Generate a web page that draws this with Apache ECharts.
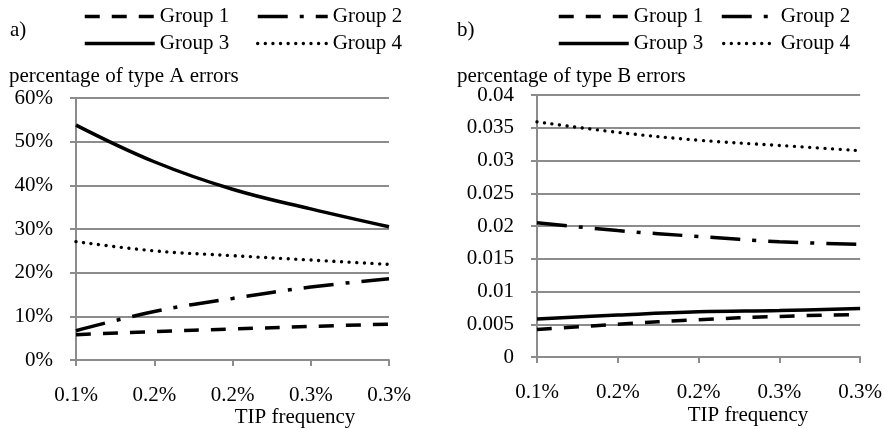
<!DOCTYPE html>
<html>
<head>
<meta charset="utf-8">
<script src="https://cdn.jsdelivr.net/npm/echarts@6/dist/echarts.min.js"></script>
<style>
html,body{margin:0;padding:0;background:#fff;}
#c{width:885px;height:429px;}
</style>
</head>
<body>
<div id="c"></div>
<script>
// ---- data ----
const xVals = [0.1, 0.15, 0.2, 0.25, 0.3];
const xTickLabels = ['0.1%', '0.2%', '0.2%', '0.3%', '0.3%'];
const yTickLabelsA = ['0%', '10%', '20%', '30%', '40%', '50%', '60%'];
const yTickLabelsB = ['0', '0.005', '0.01', '0.015', '0.02', '0.025', '0.03', '0.035', '0.04'];
const groupNames = ['Group 1', 'Group 2', 'Group 3', 'Group 4'];

// panel a) percentage of type A errors (in %)
const typeA_group1 = [5.8, 6.5, 7.1, 7.7, 8.2];
const typeA_group2 = [6.7, 11.1, 14.1, 16.7, 18.6];
const typeA_group3 = [53.8, 45.4, 39.1, 34.6, 30.5];
const typeA_group4 = [27.1, 25.0, 23.9, 22.9, 21.9];

// panel b) percentage of type B errors
const typeB_group1 = [0.0042, 0.0050, 0.0057, 0.0062, 0.0065];
const typeB_group2 = [0.0205, 0.0193, 0.0184, 0.0176, 0.0172];
const typeB_group3 = [0.0058, 0.0064, 0.0069, 0.0071, 0.0074];
const typeB_group4 = [0.0359, 0.0343, 0.0331, 0.0323, 0.0315];

// ---- styles ----
const FONT = '"Liberation Serif", serif';
const FS = 21;
const GRAY = '#8c8c8c';
const lineStyles = [
  { color: '#000', width: 3.5, type: [15, 12], cap: 'butt' },
  { color: '#000', width: 3.5, type: [30, 12, 4, 12], cap: 'butt' },
  { color: '#000', width: 3.5, type: 'solid', cap: 'butt' },
  { color: '#000', width: 3.4, type: [0.01, 7.6], cap: 'round' }
];

function xLabel(v) {
  let best = 0;
  for (let i = 1; i < xVals.length; i++) {
    if (Math.abs(xVals[i] - v) < Math.abs(xVals[best] - v)) best = i;
  }
  return xTickLabels[best];
}

const labelStyle = { fontFamily: FONT, fontSize: FS, color: '#000', fontWeight: 'normal' };

function makeX(gi) {
  return {
    type: 'value', gridIndex: gi, min: 0.1, max: 0.3, interval: 0.05,
    axisLine: { show: true, lineStyle: { color: GRAY, width: 2 } },
    axisTick: { show: true, length: 6, inside: false, lineStyle: { color: GRAY, width: 2 } },
    splitLine: { show: false },
    axisLabel: Object.assign({ formatter: xLabel, margin: 25 }, labelStyle)
  };
}
function makeY(gi, max, interval, labels) {
  return {
    type: 'value', gridIndex: gi, min: 0, max: max, interval: interval,
    axisLine: { show: true, lineStyle: { color: GRAY, width: 2 } },
    axisTick: { show: true, length: 6, inside: false, lineStyle: { color: GRAY, width: 2 } },
    splitLine: { show: true, lineStyle: { color: GRAY, width: 2 } },
    axisLabel: Object.assign({ formatter: function (v, i) { return labels[i]; }, margin: 23 }, labelStyle)
  };
}

const seriesA = [typeA_group1, typeA_group2, typeA_group3, typeA_group4];
const seriesB = [typeB_group1, typeB_group2, typeB_group3, typeB_group4];
const series = [];
[seriesA, seriesB].forEach(function (set, gi) {
  set.forEach(function (arr, k) {
    series.push({
      name: groupNames[k], type: 'line', xAxisIndex: gi, yAxisIndex: gi,
      data: xVals.map(function (x, i) { return [x, arr[i]]; }),
      smooth: 0.4, symbol: 'none', lineStyle: lineStyles[k],
      itemStyle: { color: '#000' },
      emphasis: { disabled: true }, silent: true, z: 5 + k
    });
  });
});

function makeLegend(name, k, left, top, w) {
  return {
    data: [name], left: left, top: top, padding: 0, itemWidth: w, itemHeight: 14,
    selectedMode: false,
    itemStyle: { opacity: 0 },
    lineStyle: { width: lineStyles[k].width, type: 'inherit', cap: 'inherit', color: '#000', opacity: 1 },
    textStyle: Object.assign({}, labelStyle)
  };
}
const R1 = 6, R2 = 33;
const legends = [
  makeLegend('Group 1', 0, 83, R1, 70),
  makeLegend('Group 2', 1, 256, R1, 70),
  makeLegend('Group 3', 2, 83, R2, 70),
  makeLegend('Group 4', 3, 256, R2, 70),
  makeLegend('Group 1', 0, 557, R1, 70),
  makeLegend('Group 2', 1, 720, R1, 54),
  makeLegend('Group 3', 2, 557, R2, 70),
  makeLegend('Group 4', 3, 722, R2, 52)
];

function txt(t, x, y, align) {
  return {
    type: 'text', x: x, y: y, silent: true,
    style: { text: t, font: FS + 'px ' + FONT, fill: '#000', textAlign: align || 'left', textVerticalAlign: 'middle' }
  };
}

const chart = echarts.init(document.getElementById('c'), null, { renderer: 'canvas' });
chart.setOption({
  animation: false,
  backgroundColor: '#fff',
  textStyle: { fontFamily: FONT, fontSize: FS, color: '#000' },
  grid: [
    { left: 76, top: 98, width: 313, height: 262 },
    { left: 537, top: 95, width: 324, height: 262 }
  ],
  xAxis: [makeX(0), makeX(1)],
  yAxis: [makeY(0, 60, 10, yTickLabelsA), makeY(1, 0.04, 0.005, yTickLabelsB)],
  legend: legends,
  series: series,
  graphic: [
    txt('a)', 10, 30),
    txt('b)', 457, 30),
    txt('percentage of type A errors', 9, 76),
    txt('percentage of type B errors', 457, 76),
    txt('TIP frequency', 295, 417, 'center'),
    txt('TIP frequency', 748, 415, 'center')
  ]
});
</script>
</body>
</html>
